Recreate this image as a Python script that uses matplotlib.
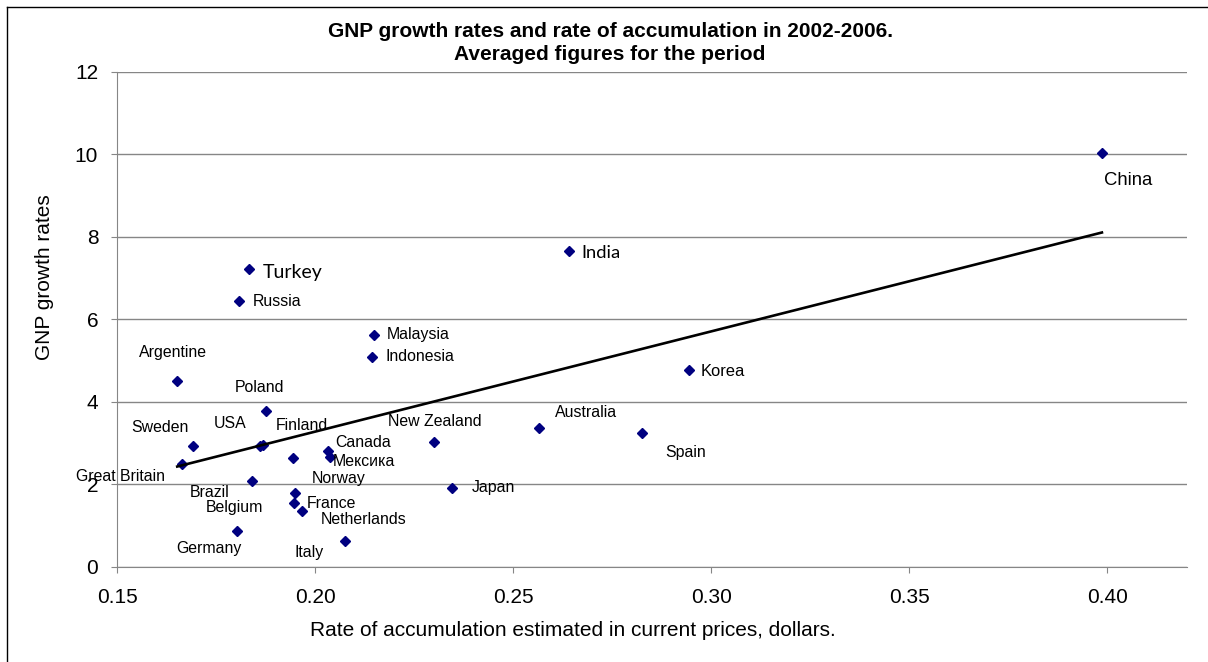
import numpy as np
import matplotlib.pyplot as plt
from matplotlib.lines import Line2D

# Averaged figures 2002-2006
countries = ["China", "India", "Turkey", "Russia", "Malaysia", "Indonesia",
             "Korea", "Argentine", "Poland", "Australia", "Spain", "Sweden",
             "USA", "Finland", "Canada", "Мексика", "New Zealand",
             "Great Britain", "Norway", "Japan", "Brazil", "Belgium",
             "France", "Netherlands", "Germany", "Italy"]
accumulation = [0.3986, 0.2641, 0.1834, 0.1809, 0.2148, 0.2144,
                0.2944, 0.1652, 0.1876, 0.2566, 0.2824, 0.1691,
                0.1860, 0.1869, 0.2033, 0.2038, 0.2301,
                0.1665, 0.1944, 0.2346, 0.1841, 0.1949,
                0.1946, 0.1968, 0.1803, 0.2075]
gnp_growth = [10.02, 7.65, 7.21, 6.44, 5.62, 5.09,
              4.76, 4.50, 3.78, 3.36, 3.23, 2.93,
              2.93, 2.96, 2.81, 2.65, 3.02,
              2.49, 2.63, 1.90, 2.08, 1.79,
              1.54, 1.36, 0.87, 0.63]
xticks = [0.15, 0.20, 0.25, 0.30, 0.35, 0.40]
yticks = [0, 2, 4, 6, 8, 10, 12]

# label placement: offset (pixels, up = positive) of the text's left/centre from its marker
label_offsets = {
    "China": (2, -27), "India": (12, -2), "Turkey": (13, -3), "Russia": (13, 0),
    "Malaysia": (13, 0), "Indonesia": (13, 0), "Korea": (12, -1),
    "Argentine": (-38, 29), "Poland": (-31, 23), "Australia": (16, 16),
    "Spain": (24, -19), "Sweden": (-61, 18), "USA": (-46, 22),
    "Finland": (13, 19), "Canada": (7, 8), "Мексика": (3, -4),
    "New Zealand": (-46, 21), "Great Britain": (-106, -13), "Norway": (19, -20),
    "Japan": (20, 1), "Brazil": (-62, -12), "Belgium": (-89, -15),
    "France": (13, 0), "Netherlands": (18, -9), "Germany": (-61, -18),
    "Italy": (-50, -12),
}
calibri_like = {"Turkey": 14, "India": 13.2}
bigger = {"China": 13.3, "Korea": 11.9}

W, H = 1208, 662
fig = plt.figure(figsize=(W / 100, H / 100), dpi=100)
ax = fig.add_axes([117 / W, 1 - 566.7 / H, (1186.7 - 117) / W, (566.7 - 71.7) / H])

gray = "#868686"
x = np.array(accumulation)
y = np.array(gnp_growth)

ax.plot(x, y, linestyle="none", marker="D", ms=5.5, color="#000080", zorder=3)

# linear trend over the range of the data
k, b = np.polyfit(x, y, 1)
xs = np.array([x.min(), x.max()])
ax.plot(xs, k * xs + b, color="black", lw=1.9, zorder=4)

for name, xi, yi in zip(countries, accumulation, gnp_growth):
    dx, dy = label_offsets[name]
    if name in calibri_like:
        fam, fs = ["Lato", "DejaVu Sans"], calibri_like[name]
    else:
        fam, fs = ["Liberation Sans", "DejaVu Sans"], bigger.get(name, 11.4)
    ax.annotate(name, (xi, yi), xytext=(dx, dy), textcoords="offset pixels",
                ha="left", va="center", fontsize=fs, family=fam, zorder=5)

ax.set_xlim(0.15, 0.42)
ax.set_ylim(0, 12)
ax.set_xticks(xticks)
ax.set_xticklabels(["%.2f" % t for t in xticks])
ax.set_yticks(yticks)
ax.yaxis.grid(True, color=gray, lw=1)
ax.set_axisbelow(True)
for s in ["top", "right"]:
    ax.spines[s].set_visible(False)
for s in ["left", "bottom"]:
    ax.spines[s].set_color(gray)
ax.tick_params(direction="out", length=4.5, color=gray, labelsize=15)
ax.tick_params(axis="x", pad=11)
ax.tick_params(axis="y", pad=9)
for lab in ax.get_xticklabels() + ax.get_yticklabels():
    lab.set_family("Liberation Sans")

fig.text(610 / W, 1 - 43 / H,
         "GNP growth rates and rate of accumulation in 2002-2006.\nAveraged figures for the period",
         ha="center", va="center", fontsize=15, fontweight="bold",
         family="Liberation Sans", linespacing=1.3)
fig.text(310 / W, 1 - 630 / H, "Rate of accumulation estimated in current prices, dollars.",
         ha="left", va="center", fontsize=15, family="Liberation Sans")
fig.text(45 / W, 1 - 277 / H, "GNP growth rates", rotation=90,
         ha="center", va="center", fontsize=15, family="Liberation Sans")

# chart frame (only the top and left edges fall inside the picture)
fig.add_artist(Line2D([7 / W, 7 / W], [0, 1 - 7 / H], color="black", lw=1))
fig.add_artist(Line2D([7 / W, 1], [1 - 7 / H, 1 - 7 / H], color="black", lw=1))

fig.savefig("out.png", dpi=100)
